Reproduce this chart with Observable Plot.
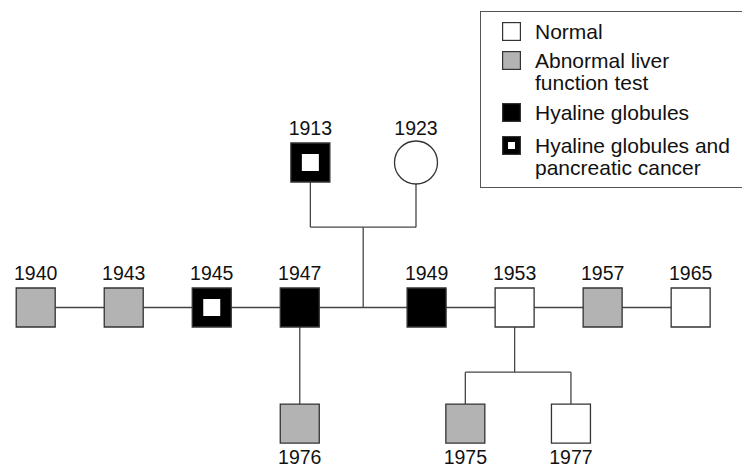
<!DOCTYPE html>
<html>
<head>
<meta charset="utf-8">
<script src="https://cdn.jsdelivr.net/npm/d3@7"></script>
<script src="https://cdn.jsdelivr.net/npm/@observablehq/plot@0.6"></script>
<style>
  html, body { margin: 0; padding: 0; background: #fff; }
  #wrap { position: relative; width: 742px; height: 468px; overflow: hidden; font-family: "Liberation Sans", Arial, sans-serif; }
  #legend { position: absolute; left: 480px; top: 11px; width: 270px; height: 177px; border: 1.3px solid #555; box-sizing: border-box; background: #fff; }
  .entry { position: absolute; left: 21px; font-size: 21px; line-height: 22.7px; color: #111; }
  .entry svg { position: absolute; left: 0; top: 1px; }
  .entry span { position: absolute; left: 33px; top: 0; white-space: nowrap; }
</style>
</head>
<body>
<div id="wrap"></div>
<script>
// ---- data ----
const years      = [1913, 1923, 1940, 1943, 1945, 1947, 1949, 1953, 1957, 1965, 1976, 1975, 1977];
const sexes      = ["M", "F", "M", "M", "M", "M", "M", "M", "M", "M", "M", "M", "M"];
const statuses   = ["cancer", "normal", "abnormal", "abnormal", "cancer", "hyaline", "hyaline", "normal", "abnormal", "normal", "abnormal", "abnormal", "normal"];
const generations = [1, 1, 2, 2, 2, 2, 2, 2, 2, 2, 3, 3, 3];
const parentOf   = [null, null, "1913+1923", "1913+1923", "1913+1923", "1913+1923", "1913+1923", "1913+1923", "1913+1923", "1913+1923", "1947", "1953", "1953"];

const statusKeys   = ["normal", "abnormal", "hyaline", "cancer"];
const statusLabels = ["Normal", "Abnormal liver\nfunction test", "Hyaline globules", "Hyaline globules and\npancreatic cancer"];
const statusFills  = ["#ffffff", "#b3b3b3", "#000000", "#000000"];

// ---- layout (pedigree) ----
const people = years.map((y, i) => ({year: y, sex: sexes[i], status: statuses[i], gen: generations[i], parents: parentOf[i]}));
const rowY = {1: 1, 2: 2, 3: 2.8};
const BAR = 0.446;   // drop from a parent row to its sibship bar
const GAP = 0.441;   // extra space left for the parents' descent line
const SPREAD = 0.6;  // half-distance between two mates / two children

const sibs = people.filter(p => p.gen === 2).sort((a, b) => a.year - b.year);
const mid = sibs.length / 2;
sibs.forEach((p, i) => { p.x = i + (i >= mid ? GAP : 0); p.y = rowY[2]; });
const descentX = (sibs[mid - 1].x + sibs[mid].x) / 2;
const founders = people.filter(p => p.gen === 1);
founders.forEach((p, i) => { p.x = descentX + (i === 0 ? -SPREAD : SPREAD); p.y = rowY[1]; });
const byYear = new Map(people.map(p => [String(p.year), p]));
const kids = d3.group(people.filter(p => p.gen === 3), p => p.parents);
for (const [par, ch] of kids) {
  const px = byYear.get(par).x;
  ch.sort((a, b) => a.year - b.year);
  ch.forEach((c, i) => { c.x = ch.length === 1 ? px : px + 0.04 + (i === 0 ? -SPREAD : SPREAD); c.y = rowY[3]; });
}

// connecting segments
const segs = [];
segs.push({x1: sibs[0].x, y1: rowY[2], x2: sibs[sibs.length - 1].x, y2: rowY[2]});
const fBar = rowY[1] + BAR;
founders.forEach(f => segs.push({x1: f.x, y1: f.y, x2: f.x, y2: fBar}));
segs.push({x1: founders[0].x, y1: fBar, x2: founders[1].x, y2: fBar});
segs.push({x1: descentX, y1: fBar, x2: descentX, y2: rowY[2]});
for (const [par, ch] of kids) {
  const p = byYear.get(par);
  if (ch.length === 1) {
    segs.push({x1: p.x, y1: p.y, x2: ch[0].x, y2: ch[0].y});
  } else {
    const bar = p.y + BAR;
    segs.push({x1: p.x, y1: p.y, x2: p.x, y2: bar});
    segs.push({x1: ch[0].x, y1: bar, x2: ch[ch.length - 1].x, y2: bar});
    ch.forEach(c => segs.push({x1: c.x, y1: bar, x2: c.x, y2: c.y}));
  }
}

const males = people.filter(p => p.sex === "M");
const females = people.filter(p => p.sex === "F");
const cancer = people.filter(p => p.status === "cancer");
const above = people.filter(p => p.gen < 3);
const below = people.filter(p => p.gen === 3);

const chart = Plot.plot({
  width: 742,
  height: 468,
  margin: 0,
  x: {domain: [-0.4, 8.03], range: [0, 742], axis: null},
  y: {domain: [-0.117, 3.110], range: [0, 468], axis: null},
  color: {domain: statusKeys, range: statusFills},
  style: {fontFamily: "'Liberation Sans', Arial, sans-serif", background: "#fff", color: "#111"},
  marks: [
    Plot.link(segs, {x1: "x1", y1: "y1", x2: "x2", y2: "y2", stroke: "#444", strokeWidth: 1.3}),
    Plot.dot(males, {x: "x", y: "y", symbol: "square", r: 22, fill: "status", stroke: "#333", strokeWidth: 1.3}),
    Plot.dot(females, {x: "x", y: "y", symbol: "circle", r: 21.5, fill: "status", stroke: "#333", strokeWidth: 1.3}),
    Plot.dot(cancer, {x: "x", y: "y", symbol: "square", r: 9.6, fill: "#fff", stroke: null}),
    Plot.text(above, {x: "x", y: "y", text: d => String(d.year), lineAnchor: "bottom", dy: -27.5, fontSize: 19.5, fill: "#111"}),
    Plot.text(below, {x: "x", y: "y", text: d => String(d.year), lineAnchor: "bottom", dy: 40, fontSize: 19.5, fill: "#111"})
  ]
});

const wrap = document.getElementById("wrap");
wrap.appendChild(chart);

// legend (inside the chart area, top right)
const legend = document.createElement("div");
legend.id = "legend";
const tops = [9.4, 37.7, 90.1, 122.7];
statusKeys.forEach((k, i) => {
  const e = document.createElement("div");
  e.className = "entry";
  e.style.top = tops[i] + "px";
  const inner = k === "cancer" ? `<rect x="6" y="6" width="7" height="7" fill="#fff"/>` : "";
  e.innerHTML = `<svg width="19" height="19"><rect x="0.6" y="0.6" width="17.8" height="17.8" fill="${statusFills[i]}" stroke="#333" stroke-width="1.2"/>${inner}</svg>` +
    `<span>${statusLabels[i].split("\n").join("<br>")}</span>`;
  legend.appendChild(e);
});
wrap.appendChild(legend);
</script>
</body>
</html>
